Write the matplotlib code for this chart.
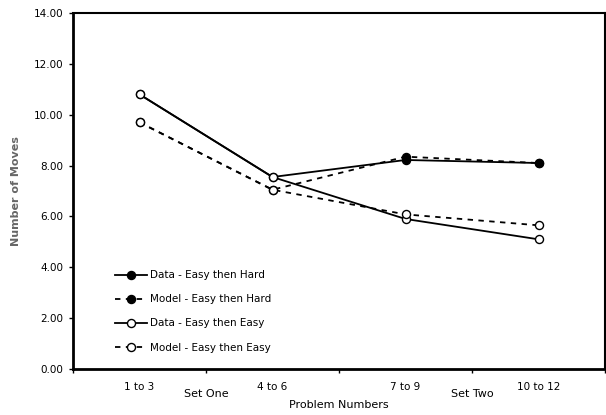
import matplotlib
matplotlib.use('Agg')
import matplotlib.pyplot as plt
import matplotlib.transforms as mtransforms

# category labels and group labels
categories = ['1 to 3', '4 to 6', '7 to 9', '10 to 12']
groups = ['Set One', 'Set Two']

# values
data_easy_hard = [10.80, 7.55, 8.22, 8.10]
model_easy_hard = [9.70, 7.05, 8.35, 8.10]
data_easy_easy = [10.80, 7.55, 5.90, 5.10]
model_easy_easy = [9.70, 7.05, 6.08, 5.65]

y_ticks = [0, 2, 4, 6, 8, 10, 12, 14]

plt.rcParams['font.family'] = ['DejaVu Sans']

fig = plt.figure(figsize=(6.06, 4.15), dpi=100)
ax = fig.add_axes([73 / 606, 46 / 415, 532 / 606, 356 / 415])

x = [i + 0.5 for i in range(len(categories))]
ms = 5.8
lw = 1.3
dash = (0, (3, 3))

ax.plot(x, data_easy_hard, color='black', lw=lw, marker='o', ms=ms,
        mfc='black', mec='black', label='Data - Easy then Hard')
ax.plot(x, model_easy_hard, color='black', lw=lw, ls=dash, marker='o', ms=ms,
        mfc='black', mec='black', label='Model - Easy then Hard')
ax.plot(x, data_easy_easy, color='black', lw=lw, marker='o', ms=ms,
        mfc='white', mec='black', label='Data - Easy then Easy')
ax.plot(x, model_easy_easy, color='black', lw=lw, ls=dash, marker='o', ms=ms,
        mfc='white', mec='black', label='Model - Easy then Easy')

ax.set_xlim(0, len(categories))
ax.set_ylim(0, 14)
ax.set_yticks(y_ticks)
ax.set_yticklabels(['%.2f' % v for v in y_ticks], fontsize=7.5)

# major ticks at category boundaries, labels on minor ticks
ax.set_xticks(range(len(categories) + 1))
ax.set_xticklabels([])
ax.set_xticks(x, minor=True)
ax.set_xticklabels(categories, minor=True, fontsize=7.5)
ax.tick_params(axis='x', which='minor', length=0, pad=9)
ax.tick_params(axis='x', which='major', length=3, width=1, direction='out')
ax.tick_params(axis='y', length=3, width=1, direction='out', pad=4)

trans = mtransforms.blended_transform_factory(ax.transData, ax.transAxes)
for i, g in enumerate(groups):
    ax.text(1 + 2 * i, -0.056, g, transform=trans, ha='center', va='top',
            fontsize=8)

ax.set_xlabel('Problem Numbers', fontsize=8)
ax.xaxis.set_label_coords(0.5, -0.087)
ax.set_ylabel('Number of Moves', fontsize=8, color='#666666',
              fontweight='bold')
ax.yaxis.set_label_coords(-0.098, 0.5)

for side in ['left', 'bottom']:
    ax.spines[side].set_linewidth(2)
for side in ['top', 'right']:
    ax.spines[side].set_linewidth(1.5)

ax.legend(loc='lower left', bbox_to_anchor=(0.062, 0.02), frameon=False,
          fontsize=7.5, handlelength=3, labelspacing=1.35, handletextpad=0.3)

plt.savefig('out.png', dpi=100)
